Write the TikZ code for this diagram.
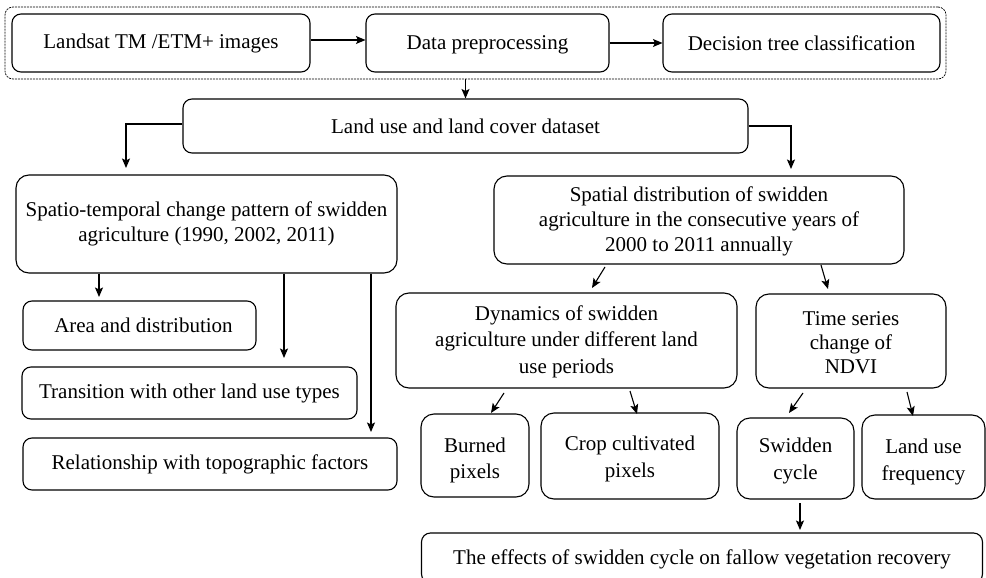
\documentclass[tikz,border=0pt]{standalone}
\usepackage{fontspec}
\setmainfont{Liberation Serif}
\newfontfamily\tnr{Liberation Serif}
\usetikzlibrary{arrows.meta}
\newcommand{\dn}[1]{\rule{0pt}{#1}}
\begin{document}
\begin{tikzpicture}[x=1pt,y=-1pt,
  box/.style={draw, rounded corners=9pt, line width=1.1pt, align=center, inner sep=0pt, font=\tnr\fontsize{21}{25}\selectfont},
  bigbox/.style={box, rounded corners=13pt},
  arr/.style={-{Stealth[length=9.5pt,width=8pt,inset=2pt]}, line width=1.1pt},
  grpbox/.style={draw, dash pattern=on 2pt off 1pt, rounded corners=8pt, line width=0.7pt, inner sep=0pt}]
\useasboundingbox (0,0) rectangle (986,578);
\clip (0,0) rectangle (986,578);

% top group
\node[grpbox, minimum width=941pt, minimum height=72pt] (grp) at (475.5,43) {};
\node[box, minimum width=298pt, minimum height=58pt] (b1) at (161,43) {Landsat TM /ETM+ images};
\node[box, minimum width=243pt, minimum height=58pt] (b2) at (487.5,43) {\dn{17pt}Data preprocessing};
\node[box, minimum width=277pt, minimum height=58pt] (b3) at (801.5,43) {Decision tree classification};

\node[box, minimum width=565pt, minimum height=54pt] (ds) at (465.5,126) {Land use and land cover dataset};

% left branch
\node[bigbox, minimum width=381pt, minimum height=98pt] (st) at (206.5,224)
  {Spatio-temporal change pattern of swidden\\agriculture (1990, 2002, 2011)};
\node[box, minimum width=233pt, minimum height=49pt] (ad) at (139.5,325.5) {\hspace*{8pt}Area and distribution};
\node[box, minimum width=335pt, minimum height=52pt] (tr) at (189.5,393) {Transition with other land use types};
\node[box, minimum width=374pt, minimum height=52pt] (rl) at (210,464) {Relationship with topographic factors};

% right branch
\node[bigbox, minimum width=410pt, minimum height=88pt] (sd) at (699,220)
  {\dn{18pt}Spatial distribution of swidden\\agriculture in the consecutive years of\\2000 to 2011 annually};
\node[bigbox, minimum width=341pt, minimum height=95pt] (dy) at (566.5,340.5)
  {\dn{17pt}Dynamics of swidden\\[1.5pt]agriculture under different land\\[1.5pt]use periods};
\node[bigbox, minimum width=190pt, minimum height=94pt] (ts) at (851,341)
  {\dn{18pt}Time series\\[-1pt]change of\\[-1pt]NDVI};
\node[bigbox, minimum width=108pt, minimum height=83pt] (bp) at (475,455.5) {\dn{24pt}Burned\\[1pt]pixels};
\node[bigbox, minimum width=178pt, minimum height=86pt] (cc) at (630,456) {\dn{20pt}Crop cultivated\\[2pt]pixels};
\node[bigbox, minimum width=117pt, minimum height=81pt] (sc) at (795.5,458.5) {\dn{20pt}Swidden\\[2pt]cycle};
\node[bigbox, minimum width=123pt, minimum height=84pt] (lf) at (923.5,457) {\dn{24pt}Land use\\[2pt]frequency};
\node[box, minimum width=561pt, minimum height=50pt] (ef) at (702,558)
  {\dn{18pt}The effects of swidden cycle on fallow vegetation recovery};

% connectors
\draw[arr] ([yshift=3pt]b1.east) -- ([yshift=3pt]b2.west);
\draw[arr] (b2.east) -- (b3.west);
\draw[arr] (grp.south -| ds.north) -- (ds.north);

\coordinate (lt) at (126,168);
\coordinate (rt) at (791,169);
\draw[arr] ([yshift=2pt]ds.west) -| (lt);
\draw[arr] (ds.east) -| (rt);

\coordinate (a1) at (99,297);
\coordinate (a2) at (284,358);
\coordinate (a3) at (371,432);
\draw[arr] (st.south -| a1) -- (a1);
\draw[arr] (st.south -| a2) -- (a2);
\draw[arr] (st.south -| a3) -- (a3);

\coordinate (d1s) at (605,267); \coordinate (d1e) at (592,288);
\coordinate (d2s) at (821,265); \coordinate (d2e) at (828,289);
\draw[arr] (d1s) -- (d1e);
\draw[arr] (d2s) -- (d2e);

\coordinate (e1s) at (504,393); \coordinate (e1e) at (491,413);
\coordinate (e2s) at (630,391); \coordinate (e2e) at (637,414);
\coordinate (e3s) at (803,393); \coordinate (e3e) at (789,413);
\coordinate (e4s) at (907,392); \coordinate (e4e) at (913,416);
\draw[arr] (e1s) -- (e1e);
\draw[arr] (e2s) -- (e2e);
\draw[arr] (e3s) -- (e3e);
\draw[arr] (e4s) -- (e4e);

\coordinate (f1s) at (800,503); \coordinate (f1e) at (800,530);
\draw[arr] (f1s) -- (f1e);
\end{tikzpicture}
\end{document}
